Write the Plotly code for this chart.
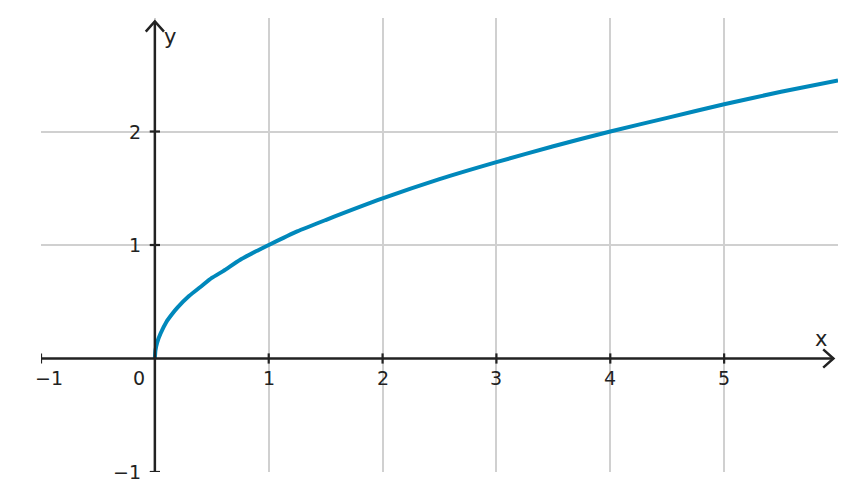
import plotly.graph_objects as go

# values
curve_x = [0, 0.005, 0.02, 0.05, 0.1, 0.15, 0.2, 0.3, 0.4, 0.5, 0.6, 0.75, 0.9, 1, 1.25, 1.5, 2, 2.5, 3, 3.5, 4, 4.5, 5, 5.5, 6]
curve_y = [0, 0.07, 0.14, 0.22, 0.32, 0.39, 0.45, 0.55, 0.63, 0.71, 0.77, 0.87, 0.95, 1, 1.12, 1.22, 1.41, 1.58, 1.73, 1.87, 2, 2.12, 2.24, 2.35, 2.45]
x_ticks = [-1, 0, 1, 2, 3, 4, 5]
y_ticks = [-1, 1, 2]
AX = '#222222'
fig = go.Figure()
fig.add_trace(go.Scatter(x=curve_x, y=curve_y, mode='lines', line=dict(color='#0088bb', width=4, shape='spline', smoothing=0.6), hoverinfo='skip'))
fig.add_trace(go.Scatter(x=[-1, 5.96], y=[0, 0], mode='lines', line=dict(color=AX, width=2.5)))
fig.add_trace(go.Scatter(x=[0, 0], y=[-1, 2.97], mode='lines', line=dict(color=AX, width=2.5)))
fig.add_trace(go.Scatter(x=[5.87, 5.96, 5.87], y=[0.08, 0, -0.08], mode='lines', line=dict(color=AX, width=2.5)))
fig.add_trace(go.Scatter(x=[-0.08, 0, 0.08], y=[2.88, 2.97, 2.88], mode='lines', line=dict(color=AX, width=2.5)))
shapes = []
for t in x_ticks:
    if t != 0:
        shapes.append(dict(type='line', x0=t, x1=t, y0=-0.045, y1=0.045, line=dict(color=AX, width=2.2)))
for t in y_ticks:
    shapes.append(dict(type='line', x0=-0.045, x1=0.045, y0=t, y1=t, line=dict(color=AX, width=2.2)))
ann = []
f = dict(family='DejaVu Sans', size=19, color=AX)
for t in x_ticks:
    if t < 0:
        ann.append(dict(xref='paper', x=-0.01, y=-0.17, text='−1', showarrow=False, font=f))
        continue
    lab = str(t)
    xx = -0.14 if t == 0 else t
    ann.append(dict(x=xx, y=-0.17, text=lab, showarrow=False, font=f))
for t in y_ticks:
    lab = '−1' if t < 0 else str(t)
    ann.append(dict(x=-0.1, y=t, text=lab, showarrow=False, xanchor='right', font=f))
ann.append(dict(x=5.85, y=0.17, text='x', showarrow=False, font=dict(family='DejaVu Sans', size=21, color=AX)))
ann.append(dict(x=0.13, y=2.83, text='y', showarrow=False, font=dict(family='DejaVu Sans', size=21, color=AX)))
grid = dict(showgrid=True, gridcolor='#d0d0d0', gridwidth=1.5, zeroline=False, showticklabels=False, ticks='', showline=False)
fig.update_layout(width=840, height=485, margin=dict(l=33, r=10, t=10, b=21), showlegend=False,
                  plot_bgcolor='white', paper_bgcolor='white', shapes=shapes, annotations=ann,
                  xaxis=dict(range=[-1, 6], tickvals=x_ticks, **grid),
                  yaxis=dict(range=[-1, 3], tickvals=y_ticks, **grid))
fig.write_html('out.html')
